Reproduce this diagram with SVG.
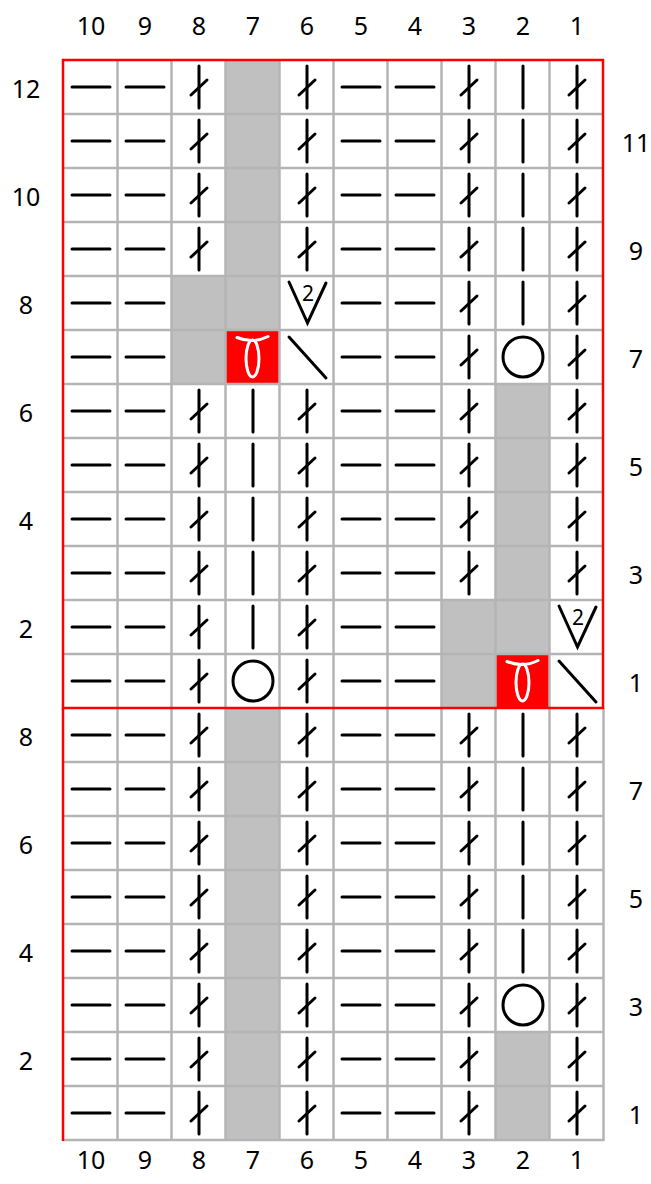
<svg xmlns="http://www.w3.org/2000/svg" xmlns:xlink="http://www.w3.org/1999/xlink" width="651" height="1184" viewBox="0 0 651 1184">
<style>
.lbl{font-family:"Noto Sans","Open Sans","DejaVu Sans",sans-serif;font-size:25px;fill:#000;text-anchor:middle}
.s{stroke:#000;stroke-width:3;stroke-linecap:round;fill:none}
.grid{stroke:#b4b4b4;stroke-width:2.5}
.red{stroke:#ff0000;stroke-width:2.5;fill:none}
.w{stroke:#fff;stroke-width:3;fill:none;stroke-linecap:round}
</style>
<defs>
<g id="P"><line class="s" x1="-19" y1="0" x2="19" y2="0"/></g>
<g id="K"><line class="s" x1="0" y1="-21" x2="0" y2="21"/></g>
<g id="T"><line class="s" x1="0" y1="-21" x2="0" y2="21"/><line class="s" x1="-8" y1="8" x2="8" y2="-7"/></g>
<g id="G"><rect x="-27.5" y="-27" width="54" height="54" fill="#c0c0c0"/></g>
<g id="O"><circle class="s" cx="0" cy="0" r="20"/></g>
<g id="D"><line class="s" x1="-18" y1="-20" x2="19" y2="21"/></g>
<g id="V"><polyline class="s" points="-18,-21 0.5,20 19,-20"/><text x="1" y="-2" style="font-family:'Noto Sans','Open Sans',sans-serif;font-size:21px;text-anchor:middle">2</text></g>
<g id="R"><rect x="-27.5" y="-27" width="54" height="54" fill="#ff0000"/><path class="w" d="M-16,-19.5 Q0,-13 15,-20.5"/><ellipse class="w" cx="-0.5" cy="1.5" rx="6.5" ry="18.5"/></g>
</defs>
<rect x="0" y="0" width="651" height="1184" fill="#fff"/>
<g id="fills">
<use href="#G" x="253" y="87"/><use href="#G" x="253" y="141"/><use href="#G" x="253" y="195"/><use href="#G" x="253" y="249"/>
<use href="#G" x="199" y="303"/><use href="#G" x="253" y="303"/>
<use href="#G" x="199" y="357"/><use href="#R" x="253" y="357"/>
<use href="#G" x="523" y="411"/><use href="#G" x="523" y="465"/><use href="#G" x="523" y="519"/><use href="#G" x="523" y="573"/>
<use href="#G" x="469" y="627"/><use href="#G" x="523" y="627"/>
<use href="#G" x="469" y="681"/><use href="#R" x="523" y="681"/>
<use href="#G" x="253" y="735"/><use href="#G" x="253" y="789"/><use href="#G" x="253" y="843"/><use href="#G" x="253" y="897"/><use href="#G" x="253" y="951"/><use href="#G" x="253" y="1005"/><use href="#G" x="253" y="1059"/><use href="#G" x="253" y="1113"/>
<use href="#G" x="523" y="1059"/><use href="#G" x="523" y="1113"/>
</g>
<g id="grid" class="grid">
<line x1="117.5" y1="60" x2="117.5" y2="1140"/><line x1="171.5" y1="60" x2="171.5" y2="1140"/><line x1="225.5" y1="60" x2="225.5" y2="1140"/><line x1="279.5" y1="60" x2="279.5" y2="1140"/><line x1="333.5" y1="60" x2="333.5" y2="1140"/><line x1="387.5" y1="60" x2="387.5" y2="1140"/><line x1="441.5" y1="60" x2="441.5" y2="1140"/><line x1="495.5" y1="60" x2="495.5" y2="1140"/><line x1="549.5" y1="60" x2="549.5" y2="1140"/>
<line x1="603.5" y1="708" x2="603.5" y2="1141"/>
<line x1="63" y1="114" x2="603" y2="114"/><line x1="63" y1="168" x2="603" y2="168"/><line x1="63" y1="222" x2="603" y2="222"/><line x1="63" y1="276" x2="603" y2="276"/><line x1="63" y1="330" x2="603" y2="330"/><line x1="63" y1="384" x2="603" y2="384"/><line x1="63" y1="438" x2="603" y2="438"/><line x1="63" y1="492" x2="603" y2="492"/><line x1="63" y1="546" x2="603" y2="546"/><line x1="63" y1="600" x2="603" y2="600"/><line x1="63" y1="654" x2="603" y2="654"/>
<line x1="63" y1="762" x2="603" y2="762"/><line x1="63" y1="816" x2="603" y2="816"/><line x1="63" y1="870" x2="603" y2="870"/><line x1="63" y1="924" x2="603" y2="924"/><line x1="63" y1="978" x2="603" y2="978"/><line x1="63" y1="1032" x2="603" y2="1032"/><line x1="63" y1="1086" x2="603" y2="1086"/><line x1="63" y1="1140" x2="604.5" y2="1140"/>
</g>
<g id="border" class="red">
<rect x="63" y="60" width="540" height="648"/>
<line x1="63" y1="708" x2="63" y2="1141"/>
</g>
<g id="row-top-12"><use href="#P" x="91" y="87"/><use href="#P" x="145" y="87"/><use href="#T" x="199" y="87"/><use href="#T" x="307" y="87"/><use href="#P" x="361" y="87"/><use href="#P" x="415" y="87"/><use href="#T" x="469" y="87"/><use href="#K" x="523" y="87"/><use href="#T" x="577" y="87"/></g>
<g id="row-top-11"><use href="#P" x="91" y="141"/><use href="#P" x="145" y="141"/><use href="#T" x="199" y="141"/><use href="#T" x="307" y="141"/><use href="#P" x="361" y="141"/><use href="#P" x="415" y="141"/><use href="#T" x="469" y="141"/><use href="#K" x="523" y="141"/><use href="#T" x="577" y="141"/></g>
<g id="row-top-10"><use href="#P" x="91" y="195"/><use href="#P" x="145" y="195"/><use href="#T" x="199" y="195"/><use href="#T" x="307" y="195"/><use href="#P" x="361" y="195"/><use href="#P" x="415" y="195"/><use href="#T" x="469" y="195"/><use href="#K" x="523" y="195"/><use href="#T" x="577" y="195"/></g>
<g id="row-top-9"><use href="#P" x="91" y="249"/><use href="#P" x="145" y="249"/><use href="#T" x="199" y="249"/><use href="#T" x="307" y="249"/><use href="#P" x="361" y="249"/><use href="#P" x="415" y="249"/><use href="#T" x="469" y="249"/><use href="#K" x="523" y="249"/><use href="#T" x="577" y="249"/></g>
<g id="row-top-8"><use href="#P" x="91" y="303"/><use href="#P" x="145" y="303"/><use href="#V" x="307" y="303"/><use href="#P" x="361" y="303"/><use href="#P" x="415" y="303"/><use href="#T" x="469" y="303"/><use href="#K" x="523" y="303"/><use href="#T" x="577" y="303"/></g>
<g id="row-top-7"><use href="#P" x="91" y="357"/><use href="#P" x="145" y="357"/><use href="#D" x="307" y="357"/><use href="#P" x="361" y="357"/><use href="#P" x="415" y="357"/><use href="#T" x="469" y="357"/><use href="#O" x="523" y="357"/><use href="#T" x="577" y="357"/></g>
<g id="row-top-6"><use href="#P" x="91" y="411"/><use href="#P" x="145" y="411"/><use href="#T" x="199" y="411"/><use href="#K" x="253" y="411"/><use href="#T" x="307" y="411"/><use href="#P" x="361" y="411"/><use href="#P" x="415" y="411"/><use href="#T" x="469" y="411"/><use href="#T" x="577" y="411"/></g>
<g id="row-top-5"><use href="#P" x="91" y="465"/><use href="#P" x="145" y="465"/><use href="#T" x="199" y="465"/><use href="#K" x="253" y="465"/><use href="#T" x="307" y="465"/><use href="#P" x="361" y="465"/><use href="#P" x="415" y="465"/><use href="#T" x="469" y="465"/><use href="#T" x="577" y="465"/></g>
<g id="row-top-4"><use href="#P" x="91" y="519"/><use href="#P" x="145" y="519"/><use href="#T" x="199" y="519"/><use href="#K" x="253" y="519"/><use href="#T" x="307" y="519"/><use href="#P" x="361" y="519"/><use href="#P" x="415" y="519"/><use href="#T" x="469" y="519"/><use href="#T" x="577" y="519"/></g>
<g id="row-top-3"><use href="#P" x="91" y="573"/><use href="#P" x="145" y="573"/><use href="#T" x="199" y="573"/><use href="#K" x="253" y="573"/><use href="#T" x="307" y="573"/><use href="#P" x="361" y="573"/><use href="#P" x="415" y="573"/><use href="#T" x="469" y="573"/><use href="#T" x="577" y="573"/></g>
<g id="row-top-2"><use href="#P" x="91" y="627"/><use href="#P" x="145" y="627"/><use href="#T" x="199" y="627"/><use href="#K" x="253" y="627"/><use href="#T" x="307" y="627"/><use href="#P" x="361" y="627"/><use href="#P" x="415" y="627"/><use href="#V" x="577" y="627"/></g>
<g id="row-top-1"><use href="#P" x="91" y="681"/><use href="#P" x="145" y="681"/><use href="#T" x="199" y="681"/><use href="#O" x="253" y="681"/><use href="#T" x="307" y="681"/><use href="#P" x="361" y="681"/><use href="#P" x="415" y="681"/><use href="#D" x="577" y="681"/></g>
<g id="row-bot-8"><use href="#P" x="91" y="735"/><use href="#P" x="145" y="735"/><use href="#T" x="199" y="735"/><use href="#T" x="307" y="735"/><use href="#P" x="361" y="735"/><use href="#P" x="415" y="735"/><use href="#T" x="469" y="735"/><use href="#K" x="523" y="735"/><use href="#T" x="577" y="735"/></g>
<g id="row-bot-7"><use href="#P" x="91" y="789"/><use href="#P" x="145" y="789"/><use href="#T" x="199" y="789"/><use href="#T" x="307" y="789"/><use href="#P" x="361" y="789"/><use href="#P" x="415" y="789"/><use href="#T" x="469" y="789"/><use href="#K" x="523" y="789"/><use href="#T" x="577" y="789"/></g>
<g id="row-bot-6"><use href="#P" x="91" y="843"/><use href="#P" x="145" y="843"/><use href="#T" x="199" y="843"/><use href="#T" x="307" y="843"/><use href="#P" x="361" y="843"/><use href="#P" x="415" y="843"/><use href="#T" x="469" y="843"/><use href="#K" x="523" y="843"/><use href="#T" x="577" y="843"/></g>
<g id="row-bot-5"><use href="#P" x="91" y="897"/><use href="#P" x="145" y="897"/><use href="#T" x="199" y="897"/><use href="#T" x="307" y="897"/><use href="#P" x="361" y="897"/><use href="#P" x="415" y="897"/><use href="#T" x="469" y="897"/><use href="#K" x="523" y="897"/><use href="#T" x="577" y="897"/></g>
<g id="row-bot-4"><use href="#P" x="91" y="951"/><use href="#P" x="145" y="951"/><use href="#T" x="199" y="951"/><use href="#T" x="307" y="951"/><use href="#P" x="361" y="951"/><use href="#P" x="415" y="951"/><use href="#T" x="469" y="951"/><use href="#K" x="523" y="951"/><use href="#T" x="577" y="951"/></g>
<g id="row-bot-3"><use href="#P" x="91" y="1005"/><use href="#P" x="145" y="1005"/><use href="#T" x="199" y="1005"/><use href="#T" x="307" y="1005"/><use href="#P" x="361" y="1005"/><use href="#P" x="415" y="1005"/><use href="#T" x="469" y="1005"/><use href="#O" x="523" y="1005"/><use href="#T" x="577" y="1005"/></g>
<g id="row-bot-2"><use href="#P" x="91" y="1059"/><use href="#P" x="145" y="1059"/><use href="#T" x="199" y="1059"/><use href="#T" x="307" y="1059"/><use href="#P" x="361" y="1059"/><use href="#P" x="415" y="1059"/><use href="#T" x="469" y="1059"/><use href="#T" x="577" y="1059"/></g>
<g id="row-bot-1"><use href="#P" x="91" y="1113"/><use href="#P" x="145" y="1113"/><use href="#T" x="199" y="1113"/><use href="#T" x="307" y="1113"/><use href="#P" x="361" y="1113"/><use href="#P" x="415" y="1113"/><use href="#T" x="469" y="1113"/><use href="#T" x="577" y="1113"/></g>
<g id="col-labels-top">
<text class="lbl" x="91" y="35">10</text><text class="lbl" x="145" y="35">9</text><text class="lbl" x="199" y="35">8</text><text class="lbl" x="253" y="35">7</text><text class="lbl" x="307" y="35">6</text><text class="lbl" x="361" y="35">5</text><text class="lbl" x="415" y="35">4</text><text class="lbl" x="469" y="35">3</text><text class="lbl" x="523" y="35">2</text><text class="lbl" x="577" y="35">1</text>
</g>
<g id="col-labels-bottom">
<text class="lbl" x="91" y="1169">10</text><text class="lbl" x="145" y="1169">9</text><text class="lbl" x="199" y="1169">8</text><text class="lbl" x="253" y="1169">7</text><text class="lbl" x="307" y="1169">6</text><text class="lbl" x="361" y="1169">5</text><text class="lbl" x="415" y="1169">4</text><text class="lbl" x="469" y="1169">3</text><text class="lbl" x="523" y="1169">2</text><text class="lbl" x="577" y="1169">1</text>
</g>
<g id="row-labels-left">
<text class="lbl" x="26" y="98">12</text><text class="lbl" x="26" y="206">10</text><text class="lbl" x="26" y="314">8</text><text class="lbl" x="26" y="422">6</text><text class="lbl" x="26" y="530">4</text><text class="lbl" x="26" y="638">2</text>
<text class="lbl" x="26" y="746">8</text><text class="lbl" x="26" y="854">6</text><text class="lbl" x="26" y="962">4</text><text class="lbl" x="26" y="1070">2</text>
</g>
<g id="row-labels-right">
<text class="lbl" x="636" y="152">11</text><text class="lbl" x="636" y="260">9</text><text class="lbl" x="636" y="368">7</text><text class="lbl" x="636" y="476">5</text><text class="lbl" x="636" y="584">3</text><text class="lbl" x="636" y="692">1</text>
<text class="lbl" x="636" y="800">7</text><text class="lbl" x="636" y="908">5</text><text class="lbl" x="636" y="1016">3</text><text class="lbl" x="636" y="1124">1</text>
</g>
</svg>
